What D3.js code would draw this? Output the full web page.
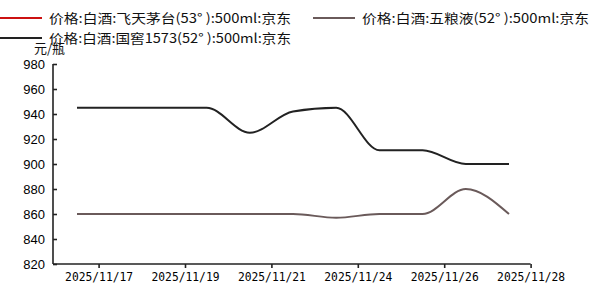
<!DOCTYPE html>
<html>
<head>
<meta charset="utf-8">
<script src="https://cdn.jsdelivr.net/npm/d3@7"></script>
<style>
  body { margin: 0; background: #fff; }
  svg { display: block; }
</style>
</head>
<body>
<script>
// data
var dates = ["2025/11/17", "2025/11/18", "2025/11/19", "2025/11/20", "2025/11/21", "2025/11/22",
             "2025/11/24", "2025/11/25", "2025/11/26", "2025/11/27", "2025/11/28"];
var tickLabels = ["2025/11/17", "2025/11/19", "2025/11/21", "2025/11/24", "2025/11/26", "2025/11/28"];
var yTicks = [820, 840, 860, 880, 900, 920, 940, 960, 980];
var maotai = [];   // 飞天茅台: not visible in the plotted range
var wuliangye = [860, 860, 860, 860, 860, 860, 857, 860, 860, 880, 860];
var guojiao = [945, 945, 945, 945, 925, 942, 945, 911, 911, 900, 900];

var series = [
  {name: "价格:白酒:飞天茅台(53° ):500ml:京东", color: "#cc1111", values: maotai},
  {name: "价格:白酒:五粮液(52° ):500ml:京东", color: "#6a5a5a", values: wuliangye},
  {name: "价格:白酒:国窖1573(52° ):500ml:京东", color: "#222222", values: guojiao}
];

var W = 600, H = 306;
var margin = {top: 64, left: 53, bottom: 42};

var svg = d3.select("body").append("svg")
    .attr("width", W).attr("height", H);

// index scale, each date gets a slot, ticks sit on the right edge of a slot
var x = d3.scaleLinear().domain([-0.5, dates.length - 0.5]).range([55.4, 530.6]);
var y = d3.scaleLinear().domain([820, 980]).range([H - margin.bottom, margin.top]);

// y axis
var yAxis = svg.append("g")
    .attr("transform", "translate(" + margin.left + ",0)")
    .call(d3.axisRight(y).tickValues(yTicks).tickSize(4).tickFormat(d3.format("d")));
yAxis.select(".domain").attr("stroke", "#222").attr("stroke-width", 1.6)
    .attr("d", "M0," + y(980) + "V" + y(820));
yAxis.selectAll(".tick line").attr("stroke", "#222").attr("stroke-width", 1.6);
yAxis.selectAll(".tick text")
    .attr("x", -8).attr("text-anchor", "end").attr("dy", "0.35em")
    .style("font-family", "'Liberation Sans', Arial, sans-serif")
    .style("font-size", "13px").attr("fill", "#000");

// x axis
var tickIdx = tickLabels.map(function(t) { return dates.indexOf(t); });
var xAxis = svg.append("g")
    .attr("transform", "translate(0," + y(820) + ")")
    .call(d3.axisBottom(x)
      .tickValues(tickIdx.map(function(i) { return i + 0.5; }))
      .tickSize(4)
      .tickFormat(function(d, i) { return tickLabels[i]; }));
xAxis.select(".domain").attr("stroke", "#222").attr("stroke-width", 1.6)
    .attr("d", "M" + margin.left + ",0H" + x(dates.length - 0.5));
xAxis.selectAll(".tick line").attr("stroke", "#222").attr("stroke-width", 1.6);
xAxis.selectAll(".tick text")
    .attr("y", 8)
    .attr("textLength", 68).attr("lengthAdjust", "spacingAndGlyphs")
    .style("font-family", "'DejaVu Sans Mono', monospace")
    .style("font-size", "12.5px").attr("fill", "#000");

// lines
var line = d3.line()
    .x(function(d, i) { return x(i); })
    .y(function(d) { return y(d); })
    .curve(d3.curveMonotoneX);

svg.selectAll("path.series")
    .data(series.filter(function(s) { return s.values.length; }))
    .enter().append("path")
    .attr("class", "series")
    .attr("fill", "none")
    .attr("stroke", function(s) { return s.color; })
    .attr("stroke-width", 2)
    .attr("d", function(s) { return line(s.values); });

// unit label
svg.append("text")
    .attr("x", 34).attr("y", 53)
    .style("font-family", "'Noto Sans CJK SC', sans-serif")
    .style("font-size", "13px").attr("fill", "#111")
    .text("元/瓶");

// legend
var legendPos = [{x: 0, y: 18, w: 242}, {x: 313, y: 18, w: 227}, {x: 0, y: 38, w: 242}];
var lg = svg.selectAll("g.legend")
    .data(series)
    .enter().append("g")
    .attr("class", "legend")
    .attr("transform", function(d, i) { return "translate(" + legendPos[i].x + "," + legendPos[i].y + ")"; });
lg.append("line")
    .attr("x1", 0).attr("x2", 42)
    .attr("stroke", function(d) { return d.color; })
    .attr("stroke-width", 2);
lg.append("text")
    .attr("x", 49).attr("dy", "0.36em")
    .attr("textLength", function(d, i) { return legendPos[i].w; })
    .attr("lengthAdjust", "spacingAndGlyphs")
    .style("font-family", "'Noto Sans CJK SC', sans-serif")
    .style("font-size", "13px").attr("fill", "#111")
    .text(function(d) { return d.name; });
</script>
</body>
</html>
